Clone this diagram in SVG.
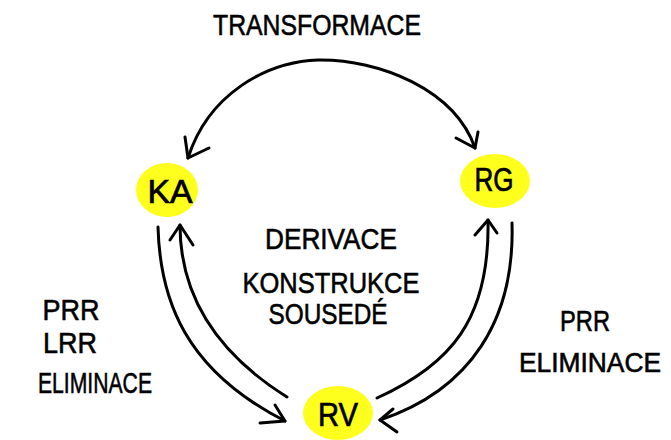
<svg xmlns="http://www.w3.org/2000/svg" width="671" height="440" viewBox="0 0 671 440">
  <style>
    .bg { fill: #ffffff; }
    .blob { fill: #ffff1e; }
    .lbl { font-family: "Liberation Sans", "DejaVu Sans", sans-serif; font-size: 30px; fill: #000; stroke: #000; stroke-width: 0.6; text-anchor: middle; }
    .narrow { font-size: 27px; }
    .node { font-family: "Liberation Sans", "DejaVu Sans", sans-serif; font-size: 33px; fill: #000; stroke: #000; stroke-width: 0.7; text-anchor: middle; }
    .line { fill: none; stroke: #000; stroke-width: 3; stroke-linecap: round; stroke-linejoin: round; }
  </style>
  <rect class="bg" width="671" height="440"/>

  <!-- edge labels -->
  <text class="lbl" x="317" y="35" textLength="208" lengthAdjust="spacingAndGlyphs">TRANSFORMACE</text>
  <g id="center-label">
    <text class="lbl" x="331" y="249" textLength="132" lengthAdjust="spacingAndGlyphs">DERIVACE</text>
    <text class="lbl" x="331" y="293" textLength="177" lengthAdjust="spacingAndGlyphs">KONSTRUKCE</text>
    <text class="lbl" x="328" y="324" textLength="119" lengthAdjust="spacingAndGlyphs">SOUSEDÉ</text>
  </g>
  <g id="left-label">
    <text class="lbl" x="71" y="320" textLength="57" lengthAdjust="spacingAndGlyphs">PRR</text>
    <text class="lbl" x="70" y="353" textLength="54" lengthAdjust="spacingAndGlyphs">LRR</text>
    <text class="lbl" x="95" y="393" textLength="114" lengthAdjust="spacingAndGlyphs">ELIMINACE</text>
  </g>
  <g id="right-label">
    <text class="lbl" x="585" y="331" textLength="50" lengthAdjust="spacingAndGlyphs">PRR</text>
    <text class="lbl narrow" x="590" y="372" textLength="142" lengthAdjust="spacingAndGlyphs">ELIMINACE</text>
  </g>

  <!-- nodes -->
  <g id="KA">
    <ellipse class="blob" cx="167" cy="190" rx="31" ry="27"/>
    <text class="node" x="170" y="203" textLength="45" lengthAdjust="spacingAndGlyphs">KA</text>
  </g>
  <g id="RG">
    <ellipse class="blob" cx="495" cy="181" rx="35" ry="27"/>
    <text class="node" x="494" y="191" textLength="39" lengthAdjust="spacingAndGlyphs">RG</text>
  </g>
  <g id="RV">
    <ellipse class="blob" cx="338" cy="413" rx="35" ry="27"/>
    <text class="node" x="338" y="426" textLength="40" lengthAdjust="spacingAndGlyphs">RV</text>
  </g>

  <!-- connectors -->
  <g id="connectors">
    <!-- TRANSFORMACE: KA <-> RG -->
    <path class="line" d="M 188 158 C 208 95, 265 62, 318 60 C 380 59, 455 90, 475 148"/>
    <path class="line" d="M 185 137 L 188 158 L 209 148"/>
    <path class="line" d="M 456 138 L 475 148 L 478 132"/>

    <!-- KA -> RV -->
    <path class="line" d="M 158 227 C 160 300, 185 370, 285 421"/>
    <path class="line" d="M 275 405 L 285 421 L 260 423"/>
    <!-- RV -> KA -->
    <path class="line" d="M 287 397 C 220 355, 180 300, 180 225"/>
    <path class="line" d="M 170 240 L 180 225 L 193 245"/>

    <!-- RV -> RG -->
    <path class="line" d="M 377 398 C 450 365, 490 320, 488 220"/>
    <path class="line" d="M 475 235 L 488 220 L 497 233"/>
    <!-- RG -> RV -->
    <path class="line" d="M 512 223 C 515 320, 470 390, 380 420"/>
    <path class="line" d="M 393 409 L 380 420 L 397 432"/>
  </g>
</svg>
